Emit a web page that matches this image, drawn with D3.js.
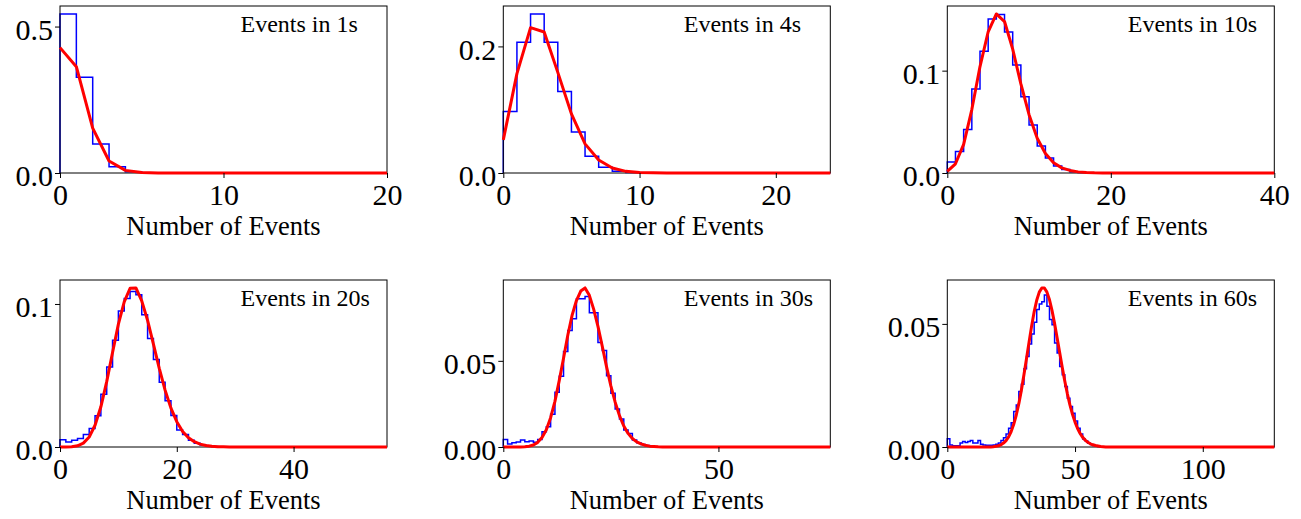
<!DOCTYPE html>
<html>
<head>
<meta charset="utf-8">
<script src="https://cdn.jsdelivr.net/npm/d3@7"></script>
<style>
  body { margin: 0; background: #fff; }
</style>
</head>
<body>
<svg id="chart" width="1301" height="519"></svg>
<script>
// panel titles and axis setup
const titles = ["Events in 1s", "Events in 4s", "Events in 10s", "Events in 20s", "Events in 30s", "Events in 60s"];
const xMaxes = [20, 24, 40, 56, 76, 128];
const xTickVals = [[0, 10, 20], [0, 10, 20], [0, 20, 40], [0, 20, 40], [0, 50], [0, 50, 100]];
const yTickVals = [[0, 0.5], [0, 0.2], [0, 0.1], [0, 0.1], [0, 0.05], [0, 0.05]];
const yTickFmt = [".1f", ".1f", ".1f", ".1f", ".2f", ".2f"];

// histogram heights (bins of width 1, starting at 0)
const hist1 = [0.543, 0.327, 0.099, 0.021, 0.004, 0.001, 0, 0, 0, 0,
               0, 0, 0, 0, 0, 0, 0, 0, 0, 0];
const hist2 = [0.0971, 0.2064, 0.2513, 0.2064, 0.1288, 0.0649, 0.0264, 0.0090, 0.0026, 0.0008,
               0.0002, 0, 0, 0, 0, 0, 0, 0, 0, 0,
               0, 0, 0, 0];
const hist3 = [0.0108, 0.0209, 0.0424, 0.0821, 0.1190, 0.1505, 0.1548, 0.1378, 0.1056, 0.0746,
               0.0469, 0.0264, 0.0147, 0.0068, 0.0033, 0.0012, 0.0004, 0.0001, 0, 0,
               0, 0, 0, 0, 0, 0, 0, 0, 0, 0,
               0, 0, 0, 0, 0, 0, 0, 0, 0, 0];
const hist4 = [0.0051, 0.0035, 0.0047, 0.0059, 0.0087, 0.0129, 0.0218, 0.0368, 0.0559, 0.0747,
               0.0950, 0.1039, 0.1088, 0.1065, 0.0925, 0.0758, 0.0611, 0.0452, 0.0323, 0.0220,
               0.0119, 0.0087, 0.0047, 0.0026, 0.0014, 0.0008, 0.0004, 0.0002, 0, 0,
               0, 0, 0, 0, 0, 0, 0, 0, 0, 0,
               0, 0, 0, 0, 0, 0, 0, 0, 0, 0,
               0, 0, 0, 0, 0, 0];
const hist5 = [0.0043, 0.0017, 0.0025, 0.0029, 0.0041, 0.0031, 0.0035, 0.0027, 0.0043, 0.0089,
               0.0118, 0.0190, 0.0318, 0.0411, 0.0554, 0.0676, 0.0744, 0.0860, 0.0860, 0.0874,
               0.0779, 0.0779, 0.0607, 0.0560, 0.0413, 0.0312, 0.0221, 0.0163, 0.0099, 0.0079,
               0.0041, 0.0025, 0.0015, 0.0008, 0.0004, 0.0002, 0, 0, 0, 0,
               0, 0, 0, 0, 0, 0, 0, 0, 0, 0,
               0, 0, 0, 0, 0, 0, 0, 0, 0, 0,
               0, 0, 0, 0, 0, 0, 0, 0, 0, 0,
               0, 0, 0, 0, 0, 0];
const hist6 = [0.0034, 0.0008, 0.0005, 0.0005, 0.0005, 0.0016, 0.0022, 0.0018, 0.0022, 0.0026,
               0.0016, 0.0016, 0.0026, 0.0011, 0.0008, 0.0007, 0.0007, 0.0007, 0.0008, 0.0011,
               0.0016, 0.0026, 0.0038, 0.0053, 0.0076, 0.0099, 0.0144, 0.0171, 0.0225, 0.0255,
               0.0318, 0.0368, 0.0418, 0.0459, 0.0507, 0.0558, 0.0581, 0.0590, 0.0617, 0.0572,
               0.0518, 0.0497, 0.0422, 0.0382, 0.0327, 0.0293, 0.0246, 0.0198, 0.0164, 0.0137,
               0.0106, 0.0076, 0.0053, 0.0033, 0.0024, 0.0015, 0.0010, 0.0006, 0.0004, 0.0002,
               0, 0, 0, 0, 0, 0, 0, 0, 0, 0,
               0, 0, 0, 0, 0, 0, 0, 0, 0, 0,
               0, 0, 0, 0, 0, 0, 0, 0, 0, 0,
               0, 0, 0, 0, 0, 0, 0, 0, 0, 0,
               0, 0, 0, 0, 0, 0, 0, 0, 0, 0,
               0, 0, 0, 0, 0, 0, 0, 0, 0, 0,
               0, 0, 0, 0, 0, 0, 0, 0];

// fitted curve, one value at each integer from 0 to the x limit
const fit1 = [0.428, 0.363, 0.153, 0.041, 0.009, 0.0015, 0.0002, 0, 0, 0,
              0, 0, 0, 0, 0, 0, 0, 0, 0, 0,
              0];
const fit2 = [0.0523, 0.157, 0.2296, 0.2228, 0.159, 0.0934, 0.046, 0.0206, 0.0079, 0.0026,
              0.0008, 0.0002, 0, 0, 0, 0, 0, 0, 0, 0,
              0, 0, 0, 0, 0];
const fit3 = [0.0015, 0.009, 0.028, 0.062, 0.104, 0.138, 0.1554, 0.148, 0.121, 0.087,
              0.057, 0.034, 0.019, 0.010, 0.005, 0.0025, 0.0011, 0.0005, 0.0002, 0.0001,
              0, 0, 0, 0, 0, 0, 0, 0, 0, 0,
              0, 0, 0, 0, 0, 0, 0, 0, 0, 0,
              0];
const fit4 = [0, 0, 0.0002, 0.0008, 0.0027, 0.0070, 0.0152, 0.0281, 0.0457, 0.0661,
              0.0859, 0.1015, 0.1110, 0.1112, 0.1021, 0.0885, 0.0719, 0.0550, 0.0397, 0.0272,
              0.0177, 0.0109, 0.0065, 0.0037, 0.0020, 0.0010, 0.0005, 0.0002, 0.0001, 0,
              0, 0, 0, 0, 0, 0, 0, 0, 0, 0,
              0, 0, 0, 0, 0, 0, 0, 0, 0, 0,
              0, 0, 0, 0, 0, 0, 0];
const fit5 = [0, 0, 0, 0, 0, 0.0002, 0.0005, 0.0012, 0.0027, 0.0055,
              0.0100, 0.0170, 0.0265, 0.0385, 0.0515, 0.0650, 0.0765, 0.0850, 0.0905, 0.0923,
              0.0880, 0.0800, 0.0700, 0.0585, 0.0465, 0.0355, 0.0260, 0.0182, 0.0122, 0.0079,
              0.0049, 0.0030, 0.0018, 0.0010, 0.0005, 0.0003, 0.0001, 0, 0, 0,
              0, 0, 0, 0, 0, 0, 0, 0, 0, 0,
              0, 0, 0, 0, 0, 0, 0, 0, 0, 0,
              0, 0, 0, 0, 0, 0, 0, 0, 0, 0,
              0, 0, 0, 0, 0, 0, 0];
const fit6 = [0, 0, 0, 0, 0, 0, 0, 0, 0, 0,
              0, 0, 0, 0, 0, 0, 0, 0, 0.0001, 0.0003,
              0.0005, 0.0009, 0.0016, 0.0026, 0.0041, 0.0063, 0.0092, 0.0130, 0.0176, 0.0231,
              0.0293, 0.0359, 0.0426, 0.0491, 0.0549, 0.0596, 0.0629, 0.0646, 0.0646, 0.0629,
              0.0598, 0.0554, 0.0501, 0.0443, 0.0383, 0.0323, 0.0267, 0.0216, 0.0171, 0.0133,
              0.0101, 0.0075, 0.0055, 0.0039, 0.0028, 0.0019, 0.0013, 0.0009, 0.0006, 0.0004,
              0.0002, 0.0001, 0, 0, 0, 0, 0, 0, 0, 0,
              0, 0, 0, 0, 0, 0, 0, 0, 0, 0,
              0, 0, 0, 0, 0, 0, 0, 0, 0, 0,
              0, 0, 0, 0, 0, 0, 0, 0, 0, 0,
              0, 0, 0, 0, 0, 0, 0, 0, 0, 0,
              0, 0, 0, 0, 0, 0, 0, 0, 0, 0,
              0, 0, 0, 0, 0, 0, 0, 0, 0];

const hists = [hist1, hist2, hist3, hist4, hist5, hist6];
const fits = [fit1, fit2, fit3, fit4, fit5, fit6];

// layout of the 2x3 grid
const colX = [60, 503.3, 947.3], rowY = [6, 280];
const w = 327, h = 167;
const serif = "'Liberation Serif', 'DejaVu Serif', serif";

const svg = d3.select("#chart");

titles.forEach((title, i) => {
    const g = svg.append("g")
        .attr("transform", "translate(" + colX[i % 3] + "," + rowY[Math.floor(i / 3)] + ")");

    const x = d3.scaleLinear().domain([0, xMaxes[i]]).range([0, w]);
    const yMax = 1.05 * Math.max(d3.max(hists[i]), d3.max(fits[i]));
    const y = d3.scaleLinear().domain([0, yMax]).range([h, 0]);

    // step outline of the histogram
    const pts = [[0, 0]].concat(hists[i].map((v, k) => [k, v]), [[hists[i].length, 0]]);
    g.append("path")
        .attr("d", d3.line().x(d => x(d[0])).y(d => y(d[1])).curve(d3.curveStepAfter)(pts))
        .attr("fill", "none")
        .attr("stroke", "#0000ff")
        .attr("stroke-width", 1.5);

    // frame
    g.append("rect")
        .attr("x", 0).attr("y", 0).attr("width", w).attr("height", h)
        .attr("fill", "none").attr("stroke", "#000").attr("stroke-width", 1);

    // fitted curve
    g.append("path")
        .attr("d", d3.line().x((d, k) => x(k)).y(d => y(d))(fits[i]))
        .attr("fill", "none")
        .attr("stroke", "#ff0000")
        .attr("stroke-width", 3)
        .attr("stroke-linejoin", "round");

    // axes
    const xAxis = g.append("g")
        .attr("transform", "translate(0," + h + ")")
        .call(d3.axisBottom(x).tickValues(xTickVals[i]).tickFormat(d3.format("d")).tickSize(5).tickPadding(6));
    const yAxis = g.append("g")
        .call(d3.axisLeft(y).tickValues(yTickVals[i]).tickFormat(d3.format(yTickFmt[i])).tickSize(5).tickPadding(2));
    [xAxis, yAxis].forEach(a => {
        a.attr("font-family", null).attr("font-size", null);
        a.select(".domain").remove();
        a.selectAll("text").style("font-family", serif).style("font-size", "30px").attr("fill", "#000");
        a.selectAll("line").attr("stroke", "#000");
    });
    yAxis.selectAll("text").attr("dy", "0.42em");

    // axis label and panel title
    g.append("text")
        .attr("x", w / 2).attr("y", h + 62)
        .attr("text-anchor", "middle")
        .style("font-family", serif)
        .style("font-size", "26.5px")
        .text("Number of Events");
    g.append("text")
        .attr("x", 180.5).attr("y", 26)
        .style("font-family", serif)
        .style("font-size", "24px")
        .text(title);
});
</script>
</body>
</html>
